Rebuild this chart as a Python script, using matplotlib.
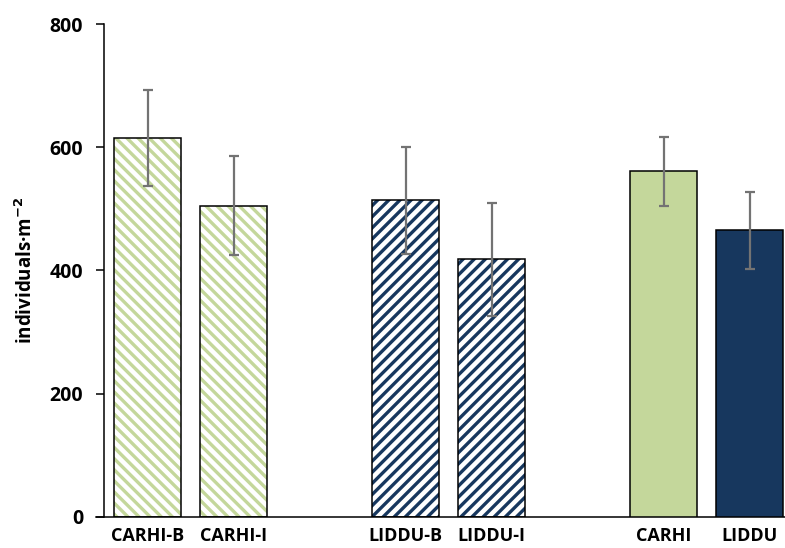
import numpy as np
import matplotlib.pyplot as plt

plt.rcParams["font.family"] = ["Open Sans", "DejaVu Sans"]
plt.rcParams["font.weight"] = "bold"
plt.rcParams["hatch.linewidth"] = 2.4

# data
labels = ["CARHI-B", "CARHI-I", "LIDDU-B", "LIDDU-I", "CARHI", "LIDDU"]
group_sizes = [2, 2, 2]
means = [615, 505, 514, 418, 561, 465]
errs = [78, 80, 87, 92, 56, 62]
fills = ["white", "white", "white", "white", "#c4d79b", "#17375e"]
hatch_colors = ["#c4d79b", "#c4d79b", "#17375e", "#17375e", None, None]
hatches = ["\\\\\\", "\\\\\\", "///", "///", None, None]

# positions: one empty slot between groups
x = []
pos = 0
for n in group_sizes:
    x.extend(range(pos, pos + n))
    pos += n + 1
x = np.array(x, dtype=float)

fig = plt.figure(figsize=(7.85, 5.48), dpi=100)
ax = fig.add_axes([0.1325, 0.0566, 0.8675, 0.8996])

w = 0.78
for xi, m, fc, hc, h in zip(x, means, fills, hatch_colors, hatches):
    if h:
        ax.bar(xi, m, w, color="white", edgecolor=hc, hatch=h, linewidth=0, zorder=2)
        ax.bar(xi, m, w, fill=False, edgecolor="black", linewidth=1.1, zorder=3)
    else:
        ax.bar(xi, m, w, color=fc, edgecolor="black", linewidth=1.1, zorder=3)

ax.errorbar(x, means, yerr=errs, fmt="none", ecolor="#737373", elinewidth=1.6,
            capsize=3.6, capthick=1.6, zorder=4)

ax.set_ylim(0, 800)
ax.set_xlim(-0.506, 7.41)
ax.set_yticks([0, 200, 400, 600, 800])
ax.set_xticks(x)
ax.set_xticklabels(labels, fontsize=13, fontweight="bold")
ax.tick_params(axis="x", length=0, pad=7.5)
ax.tick_params(axis="y", length=6, width=1.1, pad=9, labelsize=14)
ax.set_ylabel("individuals·m$^{\\mathbf{-2}}$", fontsize=13.5, fontweight="bold", labelpad=9)
for s in ("top", "right"):
    ax.spines[s].set_visible(False)
for s in ("left", "bottom"):
    ax.spines[s].set_linewidth(1.1)
ax.spines["bottom"].set_bounds(-0.6, 7.41)

fig.savefig("out.png", dpi=100)
